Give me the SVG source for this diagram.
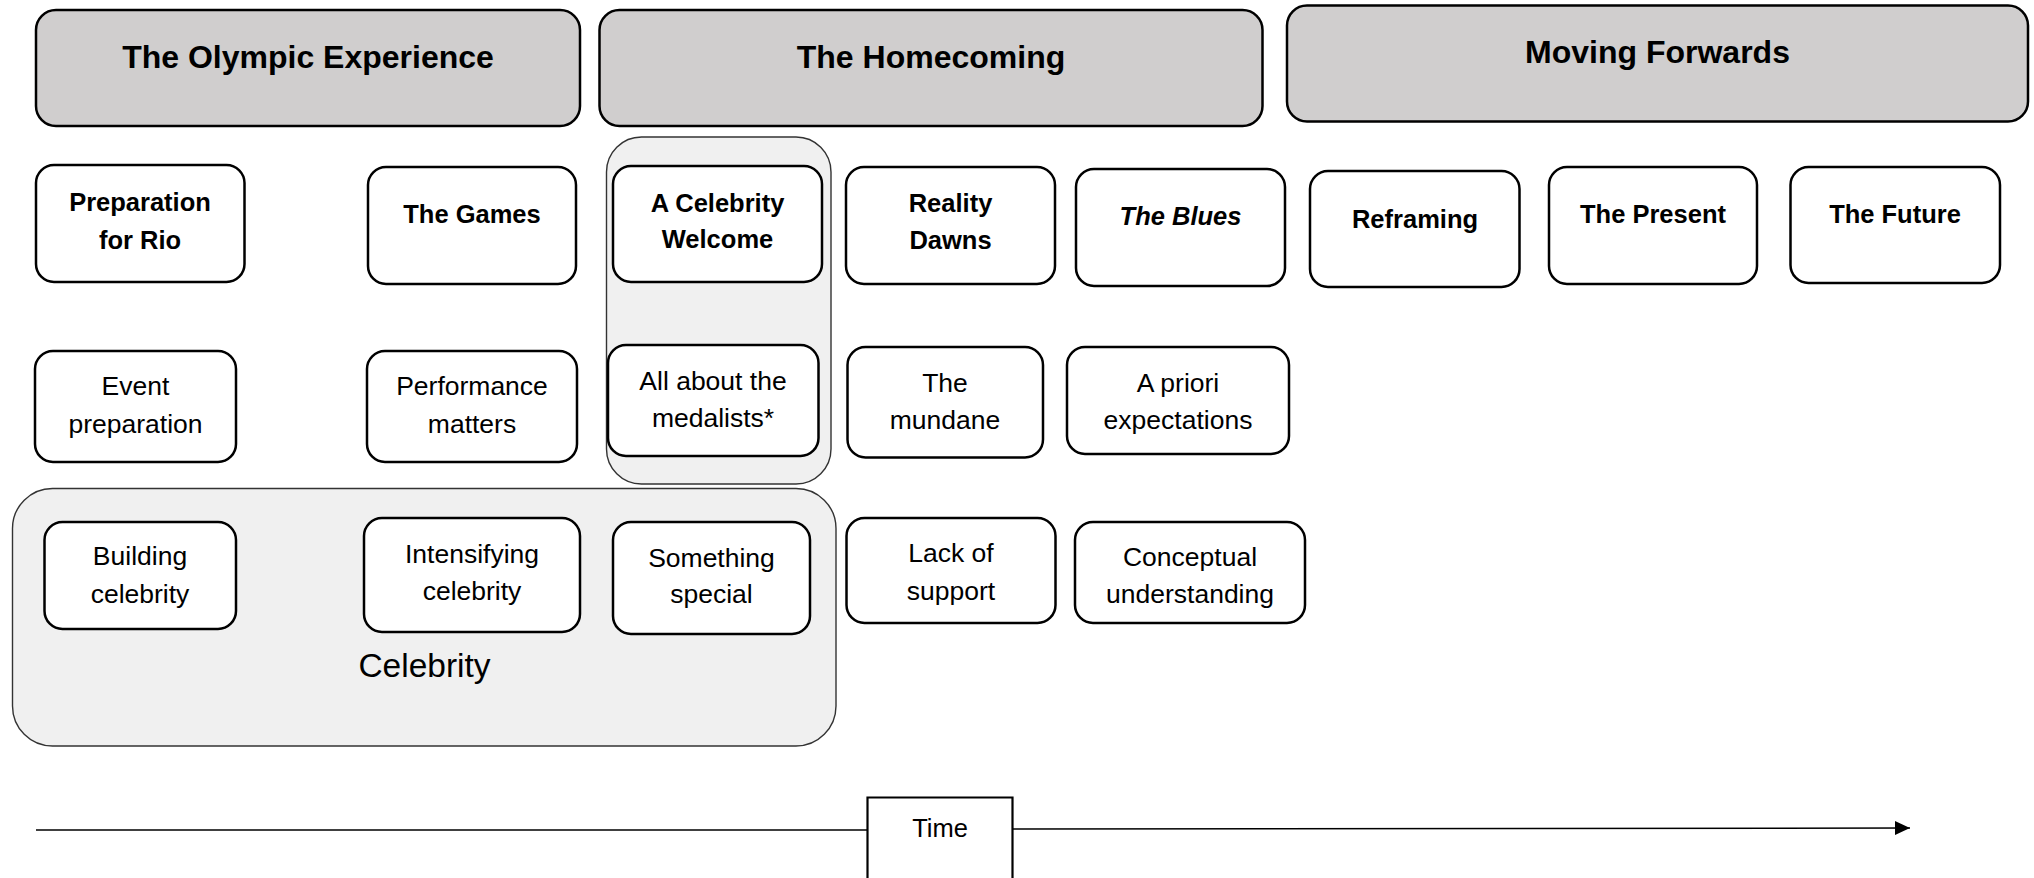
<svg xmlns="http://www.w3.org/2000/svg" width="2034" height="878" viewBox="0 0 2034 878">
<defs>
<style>
.hdr{fill:#d0cece;stroke:#000;stroke-width:2.5}
.box{fill:#fff;stroke:#000;stroke-width:2.5}
.grp{fill:#f0f0f0;stroke:#333;stroke-width:1.4}
.ht{font-family:"Liberation Sans",Arial,sans-serif;font-weight:bold;font-size:32px;text-anchor:middle;fill:#000}
.bt{font-family:"Liberation Sans",Arial,sans-serif;font-weight:bold;font-size:25.5px;text-anchor:middle;fill:#000}
.rt{font-family:"Liberation Sans",Arial,sans-serif;font-size:26.5px;text-anchor:middle;fill:#000}
.line{stroke:#000;stroke-width:1.5;fill:none}
</style>
<marker id="arr" markerWidth="15" markerHeight="14" refX="15" refY="7" orient="auto" markerUnits="userSpaceOnUse">
<path d="M0,0 L15,7 L0,14 Z" fill="#000"/>
</marker>
</defs>
<rect width="2034" height="878" fill="#fff"/>

<g id="group-celebrity-welcome"><rect class="grp" x="606.5" y="137" width="224.5" height="347" rx="35"/></g>
<g id="group-celebrity">
<rect class="grp" x="12.5" y="488.5" width="823.5" height="257.5" rx="40"/>
<text class="rt" x="424.5" y="677" style="font-size:33.5px">Celebrity</text>
</g>

<g id="hdr-olympic"><rect class="hdr" x="36" y="10" width="544" height="116" rx="20"/><text class="ht" x="308" y="68">The Olympic Experience</text></g>
<g id="hdr-homecoming"><rect class="hdr" x="599.5" y="10" width="663" height="116" rx="20"/><text class="ht" x="931" y="68">The Homecoming</text></g>
<g id="hdr-moving"><rect class="hdr" x="1287" y="5.5" width="741" height="116" rx="20"/><text class="ht" x="1657.5" y="63">Moving Forwards</text></g>

<g id="n-prep-rio"><rect class="box" x="36" y="165" width="208.5" height="117" rx="18"/><text class="bt" x="140" y="211">Preparation</text><text class="bt" x="140" y="249">for Rio</text></g>
<g id="n-games"><rect class="box" x="368" y="167" width="208" height="117" rx="18"/><text class="bt" x="472" y="223">The Games</text></g>
<g id="n-celeb-welcome"><rect class="box" x="613" y="166" width="209" height="116" rx="18"/><text class="bt" x="717.5" y="212">A Celebrity</text><text class="bt" x="717.5" y="248">Welcome</text></g>
<g id="n-reality"><rect class="box" x="846" y="167" width="209" height="117" rx="18"/><text class="bt" x="950.5" y="212">Reality</text><text class="bt" x="950.5" y="249">Dawns</text></g>
<g id="n-blues"><rect class="box" x="1076" y="169" width="209" height="117" rx="18"/><text class="bt" x="1180.5" y="225" font-style="italic">The Blues</text></g>
<g id="n-reframing"><rect class="box" x="1310" y="171" width="209.5" height="116" rx="18"/><text class="bt" x="1415" y="228">Reframing</text></g>
<g id="n-present"><rect class="box" x="1549" y="167" width="208" height="117" rx="18"/><text class="bt" x="1653" y="223">The Present</text></g>
<g id="n-future"><rect class="box" x="1790.5" y="167" width="209.5" height="116" rx="18"/><text class="bt" x="1895" y="223">The Future</text></g>

<g id="n-event-prep"><rect class="box" x="35" y="351" width="201" height="111" rx="18"/><text class="rt" x="135.5" y="395">Event</text><text class="rt" x="135.5" y="433">preparation</text></g>
<g id="n-performance"><rect class="box" x="367" y="351" width="210" height="111" rx="18"/><text class="rt" x="472" y="395">Performance</text><text class="rt" x="472" y="433">matters</text></g>
<g id="n-medalists"><rect class="box" x="608" y="345" width="210.5" height="111" rx="18"/><text class="rt" x="713" y="390">All about the</text><text class="rt" x="713" y="427">medalists*</text></g>
<g id="n-mundane"><rect class="box" x="847.5" y="347" width="195.5" height="110.5" rx="18"/><text class="rt" x="945" y="392">The</text><text class="rt" x="945" y="429">mundane</text></g>
<g id="n-apriori"><rect class="box" x="1067" y="347" width="222" height="107" rx="18"/><text class="rt" x="1178" y="392">A priori</text><text class="rt" x="1178" y="429">expectations</text></g>

<g id="n-building"><rect class="box" x="44.5" y="522" width="191.5" height="107" rx="18"/><text class="rt" x="140" y="565">Building</text><text class="rt" x="140" y="603">celebrity</text></g>
<g id="n-intensifying"><rect class="box" x="364" y="518" width="216" height="114" rx="18"/><text class="rt" x="472" y="563">Intensifying</text><text class="rt" x="472" y="600">celebrity</text></g>
<g id="n-special"><rect class="box" x="613" y="522" width="197" height="112" rx="18"/><text class="rt" x="711.5" y="567">Something</text><text class="rt" x="711.5" y="603">special</text></g>
<g id="n-lack-support"><rect class="box" x="846.5" y="518" width="209" height="105" rx="18"/><text class="rt" x="951" y="562">Lack of</text><text class="rt" x="951" y="600">support</text></g>
<g id="n-conceptual"><rect class="box" x="1075" y="522" width="230" height="101" rx="18"/><text class="rt" x="1190" y="566">Conceptual</text><text class="rt" x="1190" y="603">understanding</text></g>

<g id="connectors">
<line class="line" x1="36" y1="830" x2="867.5" y2="830"/>
<line class="line" x1="1012.5" y1="829" x2="1910" y2="828" marker-end="url(#arr)"/>
</g>

<g id="n-time">
<path d="M867.5,878 V797.5 H1012.5 V878" fill="#fff" stroke="#000" stroke-width="2.2"/>
<text class="rt" x="940" y="836.5" style="font-size:25.5px">Time</text>
</g>
</svg>
